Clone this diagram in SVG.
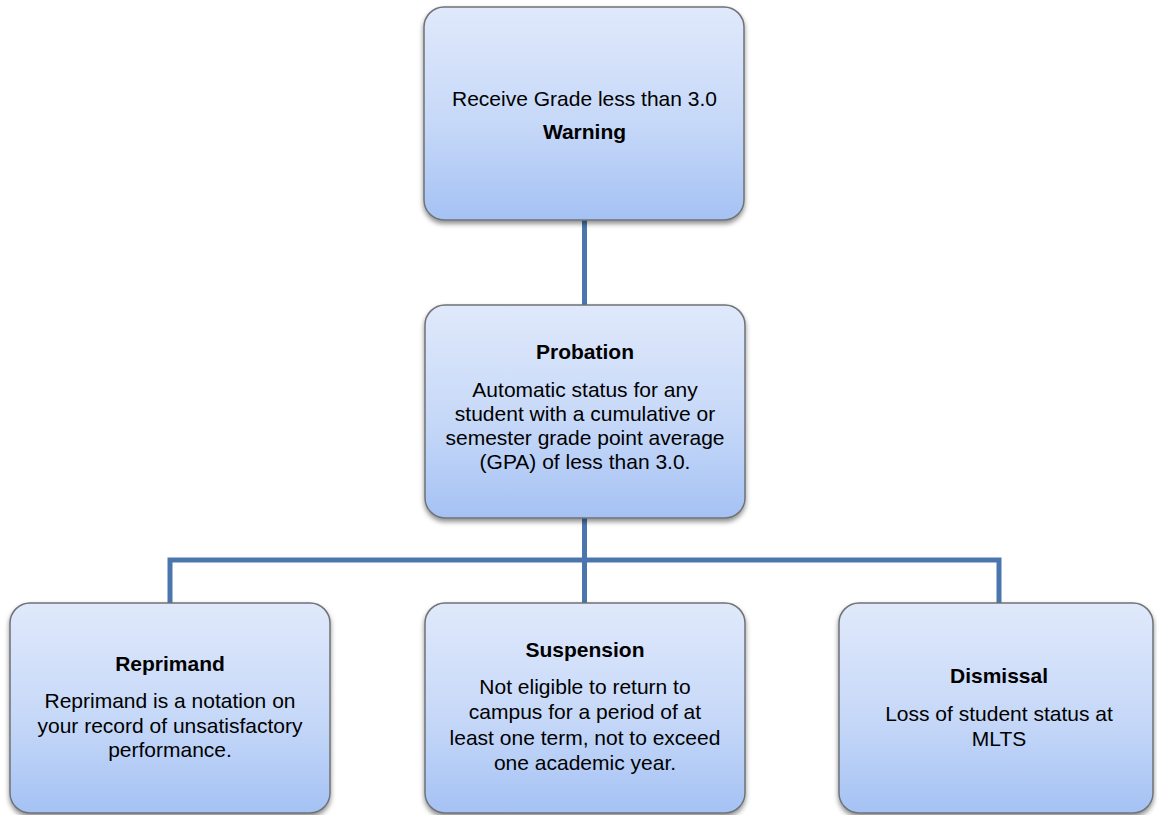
<svg xmlns="http://www.w3.org/2000/svg" width="1157" height="815" viewBox="0 0 1157 815">
  <defs>
    <linearGradient id="boxFill" x1="0" y1="0" x2="0" y2="1">
      <stop offset="0" stop-color="#e0e9fb"/>
      <stop offset="0.55" stop-color="#c6d8f8"/>
      <stop offset="1" stop-color="#a5c2f4"/>
    </linearGradient>
    <filter id="shadow" x="-10%" y="-10%" width="120%" height="125%">
      <feDropShadow dx="0" dy="3" stdDeviation="2.5" flood-color="#000" flood-opacity="0.45"/>
    </filter>
  </defs>
  <style>
    .box { fill: url(#boxFill); stroke: #6f7276; stroke-width: 1.5; filter: url(#shadow); }
    .t { font-family: "Liberation Sans", Arial, sans-serif; font-size: 21px; fill: #000; text-anchor: middle; }
    .b { font-weight: bold; }
    .conn { fill: none; stroke: #4a76ad; stroke-width: 5; }
  </style>
  <rect width="1157" height="815" fill="#fff"/>

  <g id="connectors">
    <path class="conn" d="M584.5 220 V305"/>
    <path class="conn" d="M584.5 518 V603"/>
    <path class="conn" d="M170 603 V560 H999 V603"/>
  </g>

  <g id="node-warning">
    <rect class="box" x="424" y="7" width="320" height="213" rx="20" ry="20"/>
    <text class="t" x="584.5" y="106">Receive Grade less than 3.0</text>
    <text class="t b" x="584.5" y="139">Warning</text>
  </g>

  <g id="node-probation">
    <rect class="box" x="425" y="305" width="320" height="213" rx="20" ry="20"/>
    <text class="t b" x="585" y="359">Probation</text>
    <text class="t" x="585" y="397">Automatic status for any</text>
    <text class="t" x="585" y="421">student with a cumulative or</text>
    <text class="t" x="585" y="445">semester grade point average</text>
    <text class="t" x="585" y="469">(GPA) of less than 3.0.</text>
  </g>

  <g id="node-reprimand">
    <rect class="box" x="10" y="603" width="320" height="210" rx="20" ry="20"/>
    <text class="t b" x="170" y="671">Reprimand</text>
    <text class="t" x="170" y="708">Reprimand is a notation on</text>
    <text class="t" x="170" y="733">your record of unsatisfactory</text>
    <text class="t" x="170" y="757">performance.</text>
  </g>

  <g id="node-suspension">
    <rect class="box" x="425" y="603" width="320" height="210" rx="20" ry="20"/>
    <text class="t b" x="585" y="657">Suspension</text>
    <text class="t" x="585" y="694">Not eligible to return to</text>
    <text class="t" x="585" y="719">campus for a period of at</text>
    <text class="t" x="585" y="745">least one term, not to exceed</text>
    <text class="t" x="585" y="770">one academic year.</text>
  </g>

  <g id="node-dismissal">
    <rect class="box" x="839" y="603" width="314" height="210" rx="20" ry="20"/>
    <text class="t b" x="999" y="683">Dismissal</text>
    <text class="t" x="999" y="721">Loss of student status at</text>
    <text class="t" x="999" y="746">MLTS</text>
  </g>
</svg>
